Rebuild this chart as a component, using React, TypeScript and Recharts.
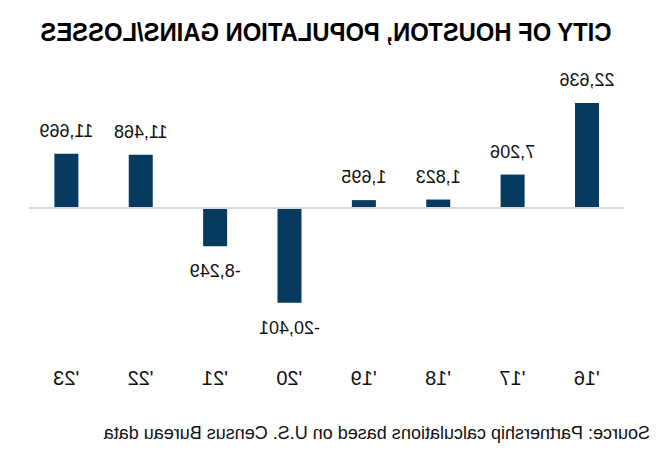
import React from 'react';
import { BarChart, Bar, XAxis, YAxis, ReferenceLine, LabelList } from 'recharts';

// The reference is drawn mirrored left-to-right, so the chart is built in
// normal order and the whole block is flipped with scaleX(-1).
const years = ["'16", "'17", "'18", "'19", "'20", "'21", "'22", "'23"];
const changes = [22636, 7206, 1823, 1695, -20401, -8249, 11468, 11669];

const chartData = years.map((year, i) => ({ year, change: changes[i] }));

const BAR_COLOR = '#063a5e';
const FONT = '"Liberation Sans", Arial, sans-serif';

function ValueLabel(props: any) {
  const { x, y, width, height, value } = props;
  const top = Math.min(y, y + height);
  const bottom = Math.max(y, y + height);
  const cx = x + width / 2;
  const isNeg = value < 0;
  return (
    <text
      x={cx}
      y={isNeg ? bottom + 25 : top - 23}
      textAnchor="middle"
      dominantBaseline="central"
      fontSize={18}
      fontFamily={FONT}
      fill="#111"
    >
      {Number(value).toLocaleString('en-US')}
    </text>
  );
}

export default function App() {
  return (
    <div
      style={{
        position: 'absolute',
        left: 0,
        top: 0,
        width: 658,
        height: 452,
        background: '#fff',
        transform: 'scaleX(-1)',
      }}
    >
      <div
        style={{
          position: 'absolute',
          left: 332,
          top: 19,
          transform: 'translateX(-50%) scaleX(0.915)',
          whiteSpace: 'nowrap',
          fontFamily: FONT,
          fontWeight: 'bold',
          fontSize: 26,
          lineHeight: 1,
          color: '#000',
        }}
      >
        CITY OF HOUSTON, POPULATION GAINS/LOSSES
      </div>
      <BarChart
        width={658}
        height={452}
        data={chartData}
        margin={{ top: 92, right: 29, bottom: 98, left: 34 }}
        barCategoryGap={0}
      >
        <XAxis
          dataKey="year"
          axisLine={false}
          tickLine={false}
          tickMargin={41}
          interval={0}
          tick={{ fontSize: 20, fontFamily: FONT, fill: '#111' }}
        />
        <YAxis hide domain={[-25000, 25000]} />
        <ReferenceLine y={0} stroke="#d9d9d9" strokeWidth={2} />
        <Bar dataKey="change" fill={BAR_COLOR} barSize={24} isAnimationActive={false}>
          <LabelList dataKey="change" content={<ValueLabel />} />
        </Bar>
      </BarChart>
      <div
        style={{
          position: 'absolute',
          left: 8,
          top: 424,
          whiteSpace: 'nowrap',
          fontFamily: FONT,
          fontSize: 18,
          lineHeight: 1,
          color: '#111',
        }}
      >
        Source: Partnership calculations based on U.S. Census Bureau data
      </div>
    </div>
  );
}
